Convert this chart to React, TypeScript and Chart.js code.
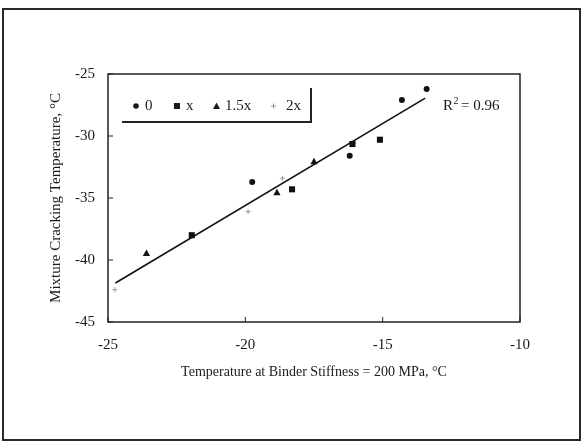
import React, { useEffect, useRef } from 'react';
import { Chart, registerables } from 'chart.js';

Chart.register(...registerables);

// Series: binder modification level
const seriesLabels = ['0', 'x', '1.5x', '2x'];
const s0X = [-19.75, -16.2, -14.3, -13.4];
const s0Y = [-33.7, -31.6, -27.1, -26.2];
const s1X = [-21.95, -18.3, -16.1, -15.1];
const s1Y = [-38.0, -34.3, -30.65, -30.3];
const s15X = [-23.6, -18.85, -17.5];
const s15Y = [-39.5, -34.6, -32.1];
const s2X = [-24.75, -19.9, -18.65, -16.05];
const s2Y = [-42.4, -36.1, -33.4, -30.55];
// Regression line end points
const trendX = [-24.73, -13.45];
const trendY = [-41.85, -26.95];
const rSquaredLabel = '0.96';
const xTicks = [-25, -20, -15, -10];
const yTicks = [-25, -30, -35, -40, -45];
const xTitle = 'Temperature at Binder Stiffness = 200 MPa, °C';
const yTitle = 'Mixture Cracking Temperature, °C';

const FONT = "'Liberation Serif', 'Times New Roman', serif";
const INK = '#1a1a1a';

const toPts = (xs: number[], ys: number[]) => xs.map((x, i) => ({ x, y: ys[i] }));

const framePlugin = {
  id: 'framePlugin',
  afterDraw(chart: any) {
    const ctx = chart.ctx as CanvasRenderingContext2D;
    const { left, right, top, bottom } = chart.chartArea;
    const xs = chart.scales.x;
    const ys = chart.scales.y;
    ctx.save();
    // outer frame
    ctx.strokeStyle = '#2a2a2a';
    ctx.lineWidth = 2;
    ctx.strokeRect(3, 9, 577, 431);
    // plot border
    ctx.lineWidth = 1.5;
    ctx.strokeStyle = '#222';
    ctx.strokeRect(left, top, right - left, bottom - top);
    // inward ticks
    ctx.lineWidth = 1;
    xTicks.forEach((v) => {
      const px = xs.getPixelForValue(v);
      ctx.beginPath();
      ctx.moveTo(px, bottom);
      ctx.lineTo(px, bottom - 5);
      ctx.stroke();
    });
    yTicks.forEach((v) => {
      const py = ys.getPixelForValue(v);
      ctx.beginPath();
      ctx.moveTo(left, py);
      ctx.lineTo(left + 5, py);
      ctx.stroke();
    });

    // legend box (bottom + right rule)
    ctx.lineWidth = 2;
    ctx.strokeStyle = '#222';
    ctx.beginPath();
    ctx.moveTo(122, 122);
    ctx.lineTo(311, 122);
    ctx.lineTo(311, 88);
    ctx.stroke();

    const ly = 106;
    ctx.fillStyle = INK;
    ctx.font = `15px ${FONT}`;
    ctx.textBaseline = 'middle';
    ctx.textAlign = 'left';
    // 0 : circle
    ctx.beginPath();
    ctx.arc(136, ly, 2.8, 0, Math.PI * 2);
    ctx.fill();
    ctx.fillText(seriesLabels[0], 145, ly);
    // x : square
    ctx.fillRect(174, ly - 3, 6, 6);
    ctx.fillText(seriesLabels[1], 186, ly);
    // 1.5x : triangle
    ctx.beginPath();
    ctx.moveTo(216.5, ly - 3.5);
    ctx.lineTo(220, ly + 3);
    ctx.lineTo(213, ly + 3);
    ctx.closePath();
    ctx.fill();
    ctx.fillText(seriesLabels[2], 225, ly);
    // 2x : small gray cross
    ctx.strokeStyle = '#9a9a9a';
    ctx.lineWidth = 1;
    ctx.beginPath();
    ctx.moveTo(271, ly);
    ctx.lineTo(276, ly);
    ctx.moveTo(273.5, ly - 2.5);
    ctx.lineTo(273.5, ly + 2.5);
    ctx.stroke();
    ctx.fillText(seriesLabels[3], 286, ly);

    // R^2 label
    ctx.fillText('R', 443, ly);
    ctx.font = `10px ${FONT}`;
    ctx.fillText('2', 453.5, ly - 5);
    ctx.font = `15px ${FONT}`;
    ctx.fillText(`= ${rSquaredLabel}`, 461, ly);
    ctx.restore();
  },
};

export default function App() {
  const ref = useRef<HTMLCanvasElement | null>(null);
  useEffect(() => {
    if (!ref.current) return;
    const chart = new Chart(ref.current, {
      type: 'scatter',
      data: {
        datasets: [
          {
            type: 'line',
            label: 'trend',
            data: toPts(trendX, trendY),
            borderColor: '#111',
            borderWidth: 1.6,
            pointRadius: 0,
            fill: false,
          } as any,
          {
            label: seriesLabels[0],
            data: toPts(s0X, s0Y),
            pointStyle: 'circle',
            pointRadius: 3,
            backgroundColor: '#111',
            borderColor: '#111',
            borderWidth: 0,
          },
          {
            label: seriesLabels[1],
            data: toPts(s1X, s1Y),
            pointStyle: 'rect',
            pointRadius: 4.3,
            backgroundColor: '#111',
            borderColor: '#111',
            borderWidth: 0,
          },
          {
            label: seriesLabels[2],
            data: toPts(s15X, s15Y),
            pointStyle: 'triangle',
            pointRadius: 4.2,
            backgroundColor: '#111',
            borderColor: '#111',
            borderWidth: 0,
          },
          {
            label: seriesLabels[3],
            data: toPts(s2X, s2Y),
            pointStyle: 'cross',
            pointRadius: 2.5,
            backgroundColor: '#999',
            borderColor: '#9a9a9a',
            borderWidth: 1,
          },
        ],
      },
      options: {
        animation: false,
        responsive: false,
        maintainAspectRatio: false,
        layout: { padding: { left: 0, right: 64, top: 74, bottom: 0 } },
        plugins: { legend: { display: false }, tooltip: { enabled: false } },
        scales: {
          x: {
            type: 'linear',
            min: -25,
            max: -10,
            afterBuildTicks: (s: any) => {
              s.ticks = xTicks.map((v) => ({ value: v }));
            },
            afterFit: (s: any) => {
              s.height = 121;
            },
            grid: { display: false, drawTicks: false },
            border: { display: false },
            ticks: {
              padding: 14,
              color: INK,
              font: { family: FONT, size: 15 },
              callback: (v: any) => String(v),
            },
            title: {
              display: true,
              text: xTitle,
              color: INK,
              font: { family: FONT, size: 14 },
              padding: { top: 0, bottom: 62 },
            },
          },
          y: {
            type: 'linear',
            min: -45,
            max: -25,
            afterBuildTicks: (s: any) => {
              s.ticks = yTicks.map((v) => ({ value: v }));
            },
            afterFit: (s: any) => {
              s.width = 108;
            },
            grid: { display: false, drawTicks: false },
            border: { display: false },
            ticks: {
              padding: 13,
              color: INK,
              font: { family: FONT, size: 15 },
              callback: (v: any) => String(v),
            },
            title: {
              display: true,
              text: yTitle,
              color: INK,
              font: { family: FONT, size: 15 },
              padding: { top: 47, bottom: 0 },
            },
          },
        },
      },
      plugins: [framePlugin],
    });
    return () => chart.destroy();
  }, []);
  return (
    <div style={{ position: 'fixed', left: 0, top: 0, width: 584, height: 443, background: '#fff' }}>
      <canvas ref={ref} width={584} height={443} style={{ width: 584, height: 443, display: 'block' }} />
    </div>
  );
}
